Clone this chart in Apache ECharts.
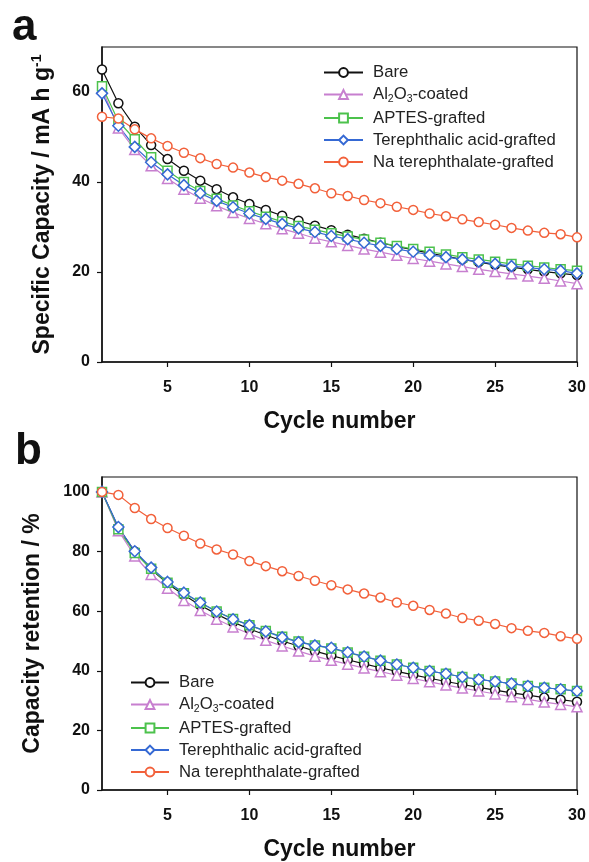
<!DOCTYPE html>
<html>
<head>
<meta charset="utf-8">
<script src="https://cdn.jsdelivr.net/npm/echarts@6/dist/echarts.min.js"></script>
<style>html,body{margin:0;padding:0;background:#fff;}#c{width:589px;height:862px;}</style>
</head>
<body>
<div id="c"></div>
<script>
const cycles = [1,2,3,4,5,6,7,8,9,10,11,12,13,14,15,16,17,18,19,20,21,22,23,24,25,26,27,28,29,30];
const seriesNames = ['Bare','Al2O3-coated','APTES-grafted','Terephthalic acid-grafted','Na terephthalate-grafted'];
const xTicks = [5,10,15,20,25,30];
const capTicks = [0,20,40,60];
const retTicks = [0,20,40,60,80,100];

// panel a: specific capacity (mA h g-1)
const capBare  = [65.0,57.5,52.3,48.2,45.1,42.5,40.3,38.4,36.6,35.1,33.8,32.5,31.4,30.3,29.3,28.3,27.4,26.5,25.7,24.9,24.2,23.5,22.8,22.2,21.6,21.1,20.6,20.1,19.7,19.3];
const capAl2O3 = [60.8,52.0,47.2,43.6,40.8,38.4,36.4,34.7,33.2,31.9,30.7,29.6,28.6,27.5,26.7,25.9,25.1,24.4,23.7,23.0,22.4,21.8,21.2,20.6,20.1,19.6,19.1,18.6,18.0,17.4];
const capAPTES = [61.3,53.5,49.5,45.5,42.5,40.0,38.0,36.3,34.8,33.5,32.3,31.2,30.2,29.4,28.6,27.9,27.2,26.5,25.8,25.1,24.5,23.9,23.3,22.8,22.3,21.8,21.4,21.0,20.6,20.3];
const capTA    = [59.7,52.5,47.8,44.4,41.7,39.3,37.5,35.8,34.4,33.0,31.8,30.7,29.7,28.9,28.0,27.3,26.5,25.8,25.1,24.5,23.8,23.3,22.8,22.3,21.8,21.3,21.0,20.6,20.3,19.7];
const capNaTA  = [54.5,54.1,51.7,49.7,48.0,46.5,45.3,44.0,43.2,42.1,41.1,40.3,39.6,38.6,37.5,36.9,36.0,35.3,34.5,33.8,33.0,32.4,31.7,31.1,30.5,29.8,29.2,28.7,28.4,27.7];

// panel b: capacity retention (%)
const retBare  = [100,88.0,80.0,74.0,69.3,65.4,62.0,59.0,56.3,54.0,52.0,50.0,48.3,46.6,45.1,43.7,42.3,41.0,39.8,38.6,37.5,36.4,35.4,34.4,33.5,32.6,31.8,31.0,30.3,29.6];
const retAl2O3 = [100,87.0,78.5,72.3,67.7,63.6,60.2,57.3,54.7,52.4,50.2,48.3,46.6,44.9,43.5,42.2,40.9,39.7,38.5,37.4,36.3,35.2,34.2,33.2,32.2,31.3,30.4,29.5,28.7,27.9];
const retAPTES = [100,87.5,79.5,74.2,69.5,66.0,62.8,59.9,57.4,55.3,53.3,51.4,49.8,48.5,47.5,46.1,44.7,43.4,42.1,41.0,39.9,39.0,37.9,37.1,36.4,35.7,34.9,34.3,33.8,33.2];
const retTA    = [100,88.2,80.1,74.6,69.8,66.2,62.9,59.9,57.3,55.3,53.2,51.2,49.6,48.5,47.7,46.2,44.8,43.4,42.1,41.0,39.9,39.0,37.9,37.1,36.4,35.7,34.9,34.3,33.8,33.2];
const retNaTA  = [100,99.0,94.6,90.9,87.9,85.3,82.7,80.7,79.0,76.8,75.1,73.4,71.8,70.2,68.7,67.3,65.9,64.6,62.9,61.8,60.4,59.2,57.7,56.8,55.7,54.3,53.4,52.7,51.6,50.7];

const colors = ['#111111','#c77fcf','#4cc24c','#3569d4','#f2603a'];
const symbols = ['circle','triangle','rect','diamond','circle'];
const symSizes = [9,10,9,11,9];
const FONT = 'Liberation Sans, Arial, sans-serif';

function pairs(vals){ return cycles.map((c,i)=>[c, vals[i]]); }

function mkSeries(vals, idx, axisIdx){
  return {
    name: seriesNames[idx], type:'line', xAxisIndex: axisIdx, yAxisIndex: axisIdx,
    data: pairs(vals), symbol: symbols[idx], symbolSize: symSizes[idx],
    lineStyle:{color: colors[idx], width:1.2},
    itemStyle:{color:'#fff', borderColor: colors[idx], borderWidth:1.5},
    emphasis:{disabled:true}, animation:false
  };
}

const legendFormatter = function(name){
  if (name === 'Al2O3-coated') return '{n|Al}{s|2}{n|O}{s|3}{n|-coated}';
  return '{n|' + name + '}';
};
const legendRich = {
  n:{fontSize:16.7, fontFamily:FONT, color:'#222'},
  s:{fontSize:10.5, fontFamily:FONT, color:'#222', padding:[9,0,0,0]}
};

function xAxisCfg(gi){
  return {
    gridIndex: gi, type:'value', min:1, max:30,
    name:'Cycle number', nameLocation:'middle', nameGap:48,
    nameTextStyle:{fontSize:23, fontWeight:'bold', fontFamily:FONT, color:'#111'},
    axisLine:{show:true, lineStyle:{color:'#111', width:1.5}},
    axisTick:{show:true, inside:false, length:5, customValues: xTicks, lineStyle:{color:'#111', width:1.2}},
    axisLabel:{customValues: xTicks, margin:18, fontSize:16, fontWeight:'bold', fontFamily:FONT, color:'#111'},
    splitLine:{show:false}
  };
}
function yAxisCfg(gi, max, ticks, name, gap, rich){
  return {
    gridIndex: gi, type:'value', min:0, max:max,
    name: name, nameLocation:'middle', nameGap: gap,
    nameTextStyle:{fontSize:23, fontWeight:'bold', fontFamily:FONT, color:'#111', rich: rich},
    axisLine:{show:true, lineStyle:{color:'#111', width:1.5}},
    axisTick:{show:true, inside:false, length:5, customValues: ticks, lineStyle:{color:'#111', width:1.2}},
    axisLabel:{customValues: ticks, margin:12, fontSize:16, fontWeight:'bold', fontFamily:FONT, color:'#111'},
    splitLine:{show:false}
  };
}

const chart = echarts.init(document.getElementById('c'), null, {renderer:'canvas'});
chart.setOption({
  backgroundColor:'#ffffff',
  animation:false,
  graphic:[
    {type:'text', left:12, top:6, style:{text:'a', fontSize:44, fontWeight:'bold', fontFamily:FONT, fill:'#111'}},
    {type:'text', left:15, top:430, style:{text:'b', fontSize:44, fontWeight:'bold', fontFamily:FONT, fill:'#111'}}
  ],
  grid:[
    {left:102, top:47, width:475, height:315, show:true, borderColor:'#111', borderWidth:1.2, backgroundColor:'transparent'},
    {left:102, top:477, width:475, height:315, show:true, borderColor:'#111', borderWidth:1.2, backgroundColor:'transparent'}
  ],
  legend:[
    {data: seriesNames, orient:'vertical', left:323, top:64, padding:0, itemWidth:39, itemHeight:11, itemGap:5,
     formatter: legendFormatter, textStyle:{rich: legendRich, padding:[0,0,0,5]}, selectedMode:false},
    {data: seriesNames, orient:'vertical', left:130, top:674, padding:0, itemWidth:38, itemHeight:11, itemGap:5,
     formatter: legendFormatter, textStyle:{rich: legendRich, padding:[0,0,0,5]}, selectedMode:false}
  ],
  xAxis:[xAxisCfg(0), xAxisCfg(1)],
  yAxis:[
    yAxisCfg(0, 70, capTicks, 'Specific Capacity / mA h g{sup|-1}', 46,
      {sup:{fontSize:14, fontWeight:'bold', fontFamily:FONT, color:'#111', padding:[0,0,12,0]}}),
    yAxisCfg(1, 105, retTicks, 'Capacity retention / %', 58, {})
  ],
  series:[
    mkSeries(capBare,0,0), mkSeries(capAl2O3,1,0), mkSeries(capAPTES,2,0), mkSeries(capTA,3,0), mkSeries(capNaTA,4,0),
    mkSeries(retBare,0,1), mkSeries(retAl2O3,1,1), mkSeries(retAPTES,2,1), mkSeries(retTA,3,1), mkSeries(retNaTA,4,1)
  ]
});
</script>
</body>
</html>
